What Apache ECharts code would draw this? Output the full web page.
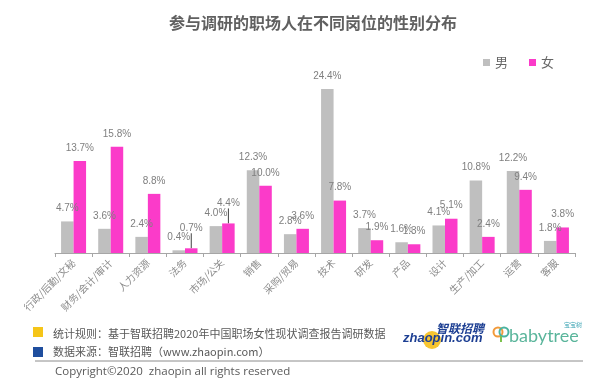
<!DOCTYPE html>
<html><head><meta charset="utf-8">
<script src="https://cdn.jsdelivr.net/npm/echarts@6/dist/echarts.min.js"></script>
<style>html,body{margin:0;padding:0;background:#fff}#c{width:600px;height:382px}</style>
</head><body><div id="c"></div>
<script>
const categories = ['行政/后勤/文秘','财务/会计/审计','人力资源','法务','市场/公关','销售','采购/贸易','技术','研发','产品','设计','生产/加工','运营','客服'];
const male = [4.7,3.6,2.4,0.4,4.0,12.3,2.8,24.4,3.7,1.6,4.1,10.8,12.2,1.8];
const female = [13.7,15.8,8.8,0.7,4.4,10.0,3.6,7.8,1.9,1.3,5.1,2.4,9.4,3.8];
const leaderIdx = [3,4];

const LF = '"Liberation Sans","Noto Sans CJK SC",sans-serif';
const CF = '"Noto Sans CJK SC",sans-serif';
const chart = echarts.init(document.getElementById('c'));
const lbl = {show:true, position:'top', distance:8, fontSize:10, color:'#7f7f7f', fontFamily:LF,
  formatter: p => p.value.toFixed(1) + '%'};
chart.setOption({
  animation:false,
  title:{text:'参与调研的职场人在不同岗位的性别分布', left:308, textAlign:'center', top:10,
    textStyle:{fontSize:16, fontWeight:'bold', color:'#606060', fontFamily:CF}},
  legend:{data:['男','女'], left:478, top:51, itemWidth:7, itemHeight:7, itemGap:21,
    icon:'rect', textStyle:{fontSize:13, color:'#666666', fontFamily:CF}},
  grid:{left:55, right:25, top:85, bottom:129},
  xAxis:{type:'category', data:categories,
    axisLine:{lineStyle:{color:'#a6a6a6'}},
    axisTick:{show:true, length:4, lineStyle:{color:'#a6a6a6'}},
    axisLabel:{rotate:45, fontSize:10, color:'#8c8c8c', fontFamily:CF, margin:8, interval:0}},
  yAxis:{type:'value', min:0, max:25, show:false, splitLine:{show:false}},
  series:[
    {name:'男', type:'bar', data:male, barWidth:12.5, barGap:'0%', itemStyle:{color:'#bfbfbf'}, label:lbl},
    {name:'女', type:'bar', barWidth:12.5,
      data: female.map((v,i)=> leaderIdx.includes(i) ? {value:v, labelLine:{show:true, lineStyle:{color:'#404040', width:1}}} : v),
      itemStyle:{color:'#fb3bc9'}, label:lbl,
      labelLayout: p => leaderIdx.includes(p.dataIndex) ? {dy:-7} : {}}
  ],
  graphic:[
    {type:'rect', shape:{x:33, y:327, width:10, height:10}, style:{fill:'#f5c518'}},
    {type:'rect', shape:{x:33, y:347, width:10, height:10}, style:{fill:'#1f4e9e'}},
    {type:'text', style:{x:53, y:334, text:'统计规则：基于智联招聘2020年中国职场女性现状调查报告调研数据', fontSize:11, fontFamily:CF, fill:'#595959', textVerticalAlign:'middle'}},
    {type:'text', style:{x:53, y:352, text:'数据来源：智联招聘（www.zhaopin.com）', fontSize:11, fontFamily:CF, fill:'#595959', textVerticalAlign:'middle'}},
    {type:'line', shape:{x1:35, y1:361, x2:583, y2:361}, style:{stroke:'#8c8c8c', lineWidth:1}},
    {type:'text', style:{x:55, y:372, text:'Copyright©2020  zhaopin all rights reserved', fontSize:11.5, fontFamily:'"Open Sans",sans-serif', fill:'#595959', textVerticalAlign:'middle'}},
    {type:'circle', shape:{cx:432, cy:340, r:9}, style:{fill:'#f7c531'}},
    {type:'text', style:{x:403, y:338, text:'zhaopin.com', fontSize:13, fontWeight:'bold', fontStyle:'italic', fontFamily:'"Liberation Sans",sans-serif', fill:'#1d3f93', textVerticalAlign:'middle'}},
    {type:'text', style:{x:436, y:328, text:'智联招聘', fontSize:12, fontWeight:'bold', fontStyle:'italic', fontFamily:CF, fill:'#1d3f93', textVerticalAlign:'middle'}},
    {type:'circle', shape:{cx:498, cy:332, r:4.5}, style:{fill:'none', stroke:'#f29a3a', lineWidth:2}},
    {type:'circle', shape:{cx:504, cy:332, r:4.5}, style:{fill:'none', stroke:'#4bb3a0', lineWidth:2}},
    {type:'line', shape:{x1:501, y1:336, x2:501, y2:342}, style:{stroke:'#7cc24d', lineWidth:2}},
    {type:'text', style:{x:509, y:336, text:'babytree', fontSize:18, fontFamily:'Lato,sans-serif', fill:'#5ab59b', textVerticalAlign:'middle'}},
    {type:'text', style:{x:564, y:325, text:'宝宝树', fontSize:6, fontFamily:CF, fill:'#3fa6b5', textVerticalAlign:'middle'}}
  ]
});
</script></body></html>
